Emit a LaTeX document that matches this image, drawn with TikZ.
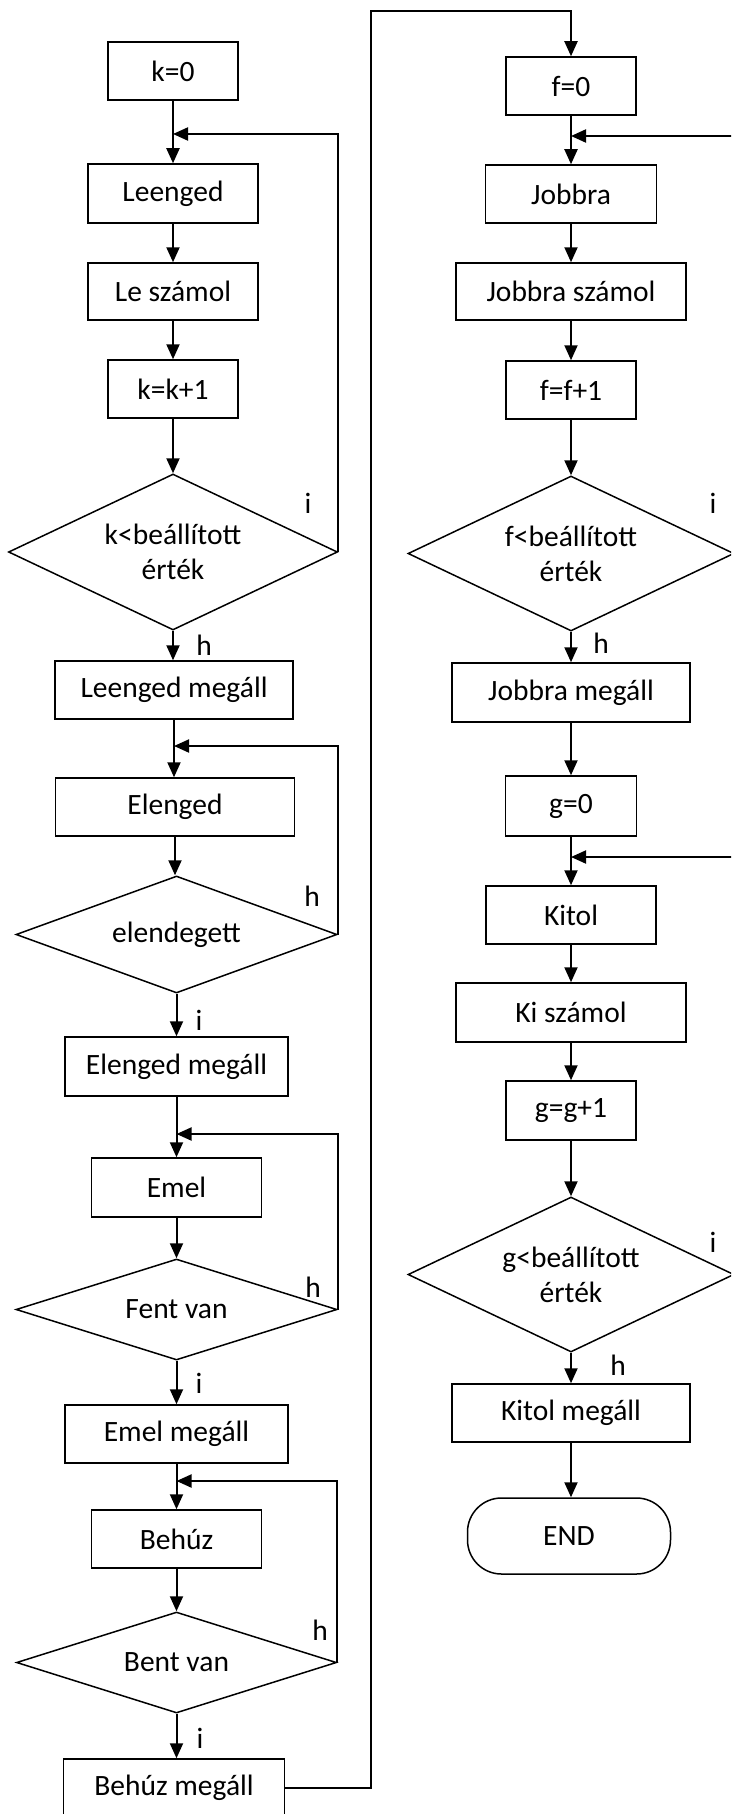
\documentclass[tikz,border=0pt]{standalone}
\usepackage{fontspec}
\setmainfont{Carlito}
\usetikzlibrary{shapes.geometric,arrows.meta}
\begin{document}
\begin{tikzpicture}[x=1pt,y=-1pt,
  txt/.style={font=\fontsize{29.5}{35}\selectfont},
  box/.style={draw,line width=1.5pt,inner sep=0pt,minimum height=58pt,txt},
  dia/.style={draw,diamond,line width=1.5pt,inner sep=0pt,align=center,txt},
  conn/.style={line width=2pt,-{Triangle[length=15pt,width=13pt]}},
  lbl/.style={txt,inner sep=0pt}
]
\useasboundingbox (0,0) rectangle (731,1814);
\clip (0,0) rectangle (731,1814);

% left column
\node[box,minimum width=130pt] (k0) at (173,71) {k=0};
\node[box,minimum width=170pt,minimum height=59pt] (le) at (173,193.5) {Leenged};
\node[box,minimum width=170pt,minimum height=57pt] (lesz) at (173,291.5) {Le számol};
\node[box,minimum width=130pt] (kk) at (173,389) {k=k+1};
\node[dia,aspect=2.1,minimum width=329pt,minimum height=156pt] (dk) at (173,552) {k<beállított\\érték};
\node[box,minimum width=238pt] (lmeg) at (174,690) {Leenged megáll};
\node[box,minimum width=239pt] (el) at (175,807) {Elenged};
\node[dia,aspect=2.8,minimum width=321pt,minimum height=117pt] (de) at (176.5,934.5) {elendegett};
\node[box,minimum width=223pt,minimum height=59pt] (elmeg) at (176.5,1066.5) {Elenged megáll};
\node[box,minimum width=170pt,minimum height=59pt] (em) at (176.5,1187.5) {Emel};
\node[dia,aspect=3.2,minimum width=321pt,minimum height=101pt] (df) at (176.5,1309.5) {Fent van};
\node[box,minimum width=223pt] (emmeg) at (176.5,1434) {Emel megáll};
\node[box,minimum width=170pt] (be) at (176.5,1539) {Behúz};
\node[dia,aspect=3.2,minimum width=320pt,minimum height=101pt] (db) at (176.5,1662.5) {Bent van};
\node[box,minimum width=221pt] (bemeg) at (174,1788) {Behúz megáll};

% right column
\node[box,minimum width=130pt] (f0) at (571,86) {f=0};
\node[box,minimum width=171pt] (jo) at (571,194) {Jobbra};
\node[box,minimum width=230pt,minimum height=57pt] (josz) at (571,291.5) {Jobbra számol};
\node[box,minimum width=130pt] (ff) at (571,390) {f=f+1};
\node[dia,aspect=2.1,minimum width=326pt,minimum height=155pt] (dfr) at (571,553.5) {f<beállított\\érték};
\node[box,minimum width=238pt,minimum height=59pt] (jmeg) at (571,692.5) {Jobbra megáll};
\node[box,minimum width=131pt,minimum height=60pt] (g0) at (571,806) {g=0};
\node[box,minimum width=170pt] (ki) at (571,915) {Kitol};
\node[box,minimum width=230pt,minimum height=59pt] (kisz) at (571,1012.5) {Ki számol};
\node[box,minimum width=130pt,minimum height=59pt] (gg) at (571,1110.5) {g=g+1};
\node[dia,aspect=2.1,minimum width=326pt,minimum height=155pt] (dg) at (571,1274.5) {g<beállított\\érték};
\node[box,minimum width=238pt] (kimeg) at (571,1413) {Kitol megáll};
\node[draw,line width=1.5pt,rounded corners=34pt,minimum width=203pt,minimum height=76pt,inner sep=0pt,txt] (end) at (569,1536) {END};

% left connectors
\draw[conn] (k0.south) -- (le.north);
\draw[conn] (le.south) -- (lesz.north);
\draw[conn] (lesz.south) -- (kk.north);
\draw[conn] (kk.south) -- (dk.north);
\draw[conn] (dk.south) -- (dk.south |- lmeg.north);
\draw[conn] (lmeg.south) -- (lmeg.south |- el.north);
\draw[conn] (el.south) -- (el.south |- de.north);
\draw[conn] (de.south) -- (de.south |- elmeg.north);
\draw[conn] (elmeg.south) -- (em.north);
\draw[conn] (em.south) -- (df.north);
\draw[conn] (df.south) -- (emmeg.north);
\draw[conn] (emmeg.south) -- (be.north);
\draw[conn] (be.south) -- (db.north);
\draw[conn] (db.south) -- (db.south |- bemeg.north);

% left loops
\coordinate (j1) at (173,134);
\coordinate (j2) at (174,746);
\coordinate (j3) at (176.5,1134);
\coordinate (j4) at (176.5,1481);
\draw[conn] (dk.east) |- (j1);
\draw[conn] (de.east) |- (j2);
\draw[conn] (df.east) |- (j3);
\draw[conn] (db.east) |- (j4);

% link to right column
\coordinate (t1) at (371,11);
\draw[conn] (bemeg.east) -| (t1) -| (f0.north);

% right connectors
\draw[conn] (f0.south) -- (jo.north);
\draw[conn] (jo.south) -- (josz.north);
\draw[conn] (josz.south) -- (ff.north);
\draw[conn] (ff.south) -- (dfr.north);
\draw[conn] (dfr.south) -- (jmeg.north);
\draw[conn] (jmeg.south) -- (g0.north);
\draw[conn] (g0.south) -- (ki.north);
\draw[conn] (ki.south) -- (kisz.north);
\draw[conn] (kisz.south) -- (gg.north);
\draw[conn] (gg.south) -- (dg.north);
\draw[conn] (dg.south) -- (kimeg.north);
\draw[conn] (kimeg.south) -- (kimeg.south |- end.north);

% right loops (vertical part runs beyond the right edge)
\coordinate (r1) at (745,136);
\coordinate (q1) at (571,136);
\coordinate (r2) at (745,857);
\coordinate (q2) at (571,857);
\draw[conn] (dfr.east) -| (r1) -- (q1);
\draw[conn] (dg.east) -| (r2) -- (q2);

% labels
\node[lbl] (li1) at (308,503) {i};
\node[lbl] (lh1) at (204,645) {h};
\node[lbl] (lh2) at (312,896) {h};
\node[lbl] (li2) at (199,1020) {i};
\node[lbl] (lh3) at (313,1287) {h};
\node[lbl] (li3) at (199,1383) {i};
\node[lbl] (lh4) at (320,1630) {h};
\node[lbl] (li4) at (200,1738) {i};
\node[lbl] (ri1) at (713,503) {i};
\node[lbl] (rh1) at (601,643) {h};
\node[lbl] (ri2) at (713,1242) {i};
\node[lbl] (rh2) at (618,1365) {h};
\end{tikzpicture}
\end{document}
